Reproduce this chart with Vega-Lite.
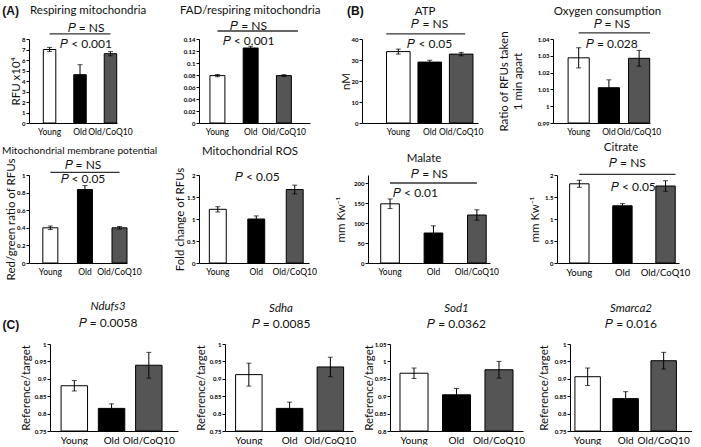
{
 "$schema": "https://vega.github.io/schema/vega-lite/v6.json",
 "background": "white",
 "padding": {"left": 2, "top": 4, "right": 0, "bottom": 0},
 "config": {
  "font": "Lato",
  "view": {"stroke": null},
  "title": {"fontSize": 11.5, "fontWeight": "normal", "offset": 3, "color": "#111", "subtitleFontSize": 12, "subtitleColor": "#111", "subtitlePadding": 5},
  "axisY": {"domainColor": "black", "tickColor": "black", "tickSize": 3, "tickCount": 20, "labelFontSize": 6, "labelFontWeight": "bold", "labelColor": "black", "labelPadding": 1, "labelOverlap": false, "titleFontSize": 11.5, "titleFontWeight": "normal", "titleColor": "#111", "titlePadding": 1, "grid": false},
  "axisX": {"domainColor": "black", "ticks": false, "labelAngle": 0, "labelFontSize": 8.5, "labelColor": "black", "labelPadding": 4, "title": null, "grid": false},
  "text": {"fontSize": 12, "color": "#111"},
  "rule": {"color": "#333", "strokeWidth": 1.3}
 },
 "datasets": {
  "A1": [{"g":"Young","v":7.0,"lo":6.8,"hi":7.2},{"g":"Old","v":4.6,"lo":3.65,"hi":5.55},{"g":"Old/CoQ10","v":6.6,"lo":6.4,"hi":6.8}],
  "A2": [{"g":"Young","v":0.079,"lo":0.077,"hi":0.081},{"g":"Old","v":0.125,"lo":0.122,"hi":0.128},{"g":"Old/CoQ10","v":0.079,"lo":0.0775,"hi":0.0805}],
  "B1": [{"g":"Young","v":34,"lo":32.8,"hi":35.2},{"g":"Old","v":29,"lo":28.1,"hi":29.9},{"g":"Old/CoQ10","v":32.8,"lo":32,"hi":33.6}],
  "B2": [{"g":"Young","v":1.0288,"lo":1.0228,"hi":1.0348},{"g":"Old","v":1.011,"lo":1.0063,"hi":1.0157},{"g":"Old/CoQ10","v":1.0285,"lo":1.0238,"hi":1.0332}],
  "A3": [{"g":"Young","v":0.40,"lo":0.38,"hi":0.42},{"g":"Old","v":0.835,"lo":0.79,"hi":0.88},{"g":"Old/CoQ10","v":0.40,"lo":0.385,"hi":0.415}],
  "A4": [{"g":"Young","v":1.22,"lo":1.16,"hi":1.28},{"g":"Old","v":1.0,"lo":0.93,"hi":1.07},{"g":"Old/CoQ10","v":1.67,"lo":1.57,"hi":1.77}],
  "B3": [{"g":"Young","v":148,"lo":136,"hi":160},{"g":"Old","v":75,"lo":57,"hi":93},{"g":"Old/CoQ10","v":120,"lo":107,"hi":133}],
  "B4": [{"g":"Young","v":1.8,"lo":1.72,"hi":1.88},{"g":"Old","v":1.3,"lo":1.25,"hi":1.35},{"g":"Old/CoQ10","v":1.75,"lo":1.63,"hi":1.87}],
  "C1": [{"g":"Young","v":0.88,"lo":0.865,"hi":0.895},{"g":"Old","v":0.815,"lo":0.802,"hi":0.828},{"g":"Old/CoQ10","v":0.939,"lo":0.902,"hi":0.976}],
  "C2": [{"g":"Young","v":0.912,"lo":0.879,"hi":0.945},{"g":"Old","v":0.815,"lo":0.797,"hi":0.833},{"g":"Old/CoQ10","v":0.934,"lo":0.906,"hi":0.962}],
  "C3": [{"g":"Young","v":0.966,"lo":0.951,"hi":0.981},{"g":"Old","v":0.904,"lo":0.886,"hi":0.922},{"g":"Old/CoQ10","v":0.976,"lo":0.952,"hi":1.0}],
  "C4": [{"g":"Young","v":0.906,"lo":0.881,"hi":0.931},{"g":"Old","v":0.843,"lo":0.823,"hi":0.863},{"g":"Old/CoQ10","v":0.952,"lo":0.928,"hi":0.976}],
  "none": []
 },
 "columns": 1,
 "align": "none",
 "spacing": 20,
 "concat": [
  {"columns": 1, "align": "none", "spacing": 6, "concat": [
   {"bounds": "flush", "spacing": 0, "hconcat": [
      {"width": 88, "height": 84, "title": {"text": "Respiring mitochondria", "anchor": "start", "frame": "group", "dx": 1, "offset": -12},
       "layer": [
        {"data": {"name": "A1"}, "mark": {"type": "bar", "stroke": "black", "strokeWidth": 1},
         "encoding": {
          "x": {"field": "g", "type": "nominal", "scale": {"domain": ["Young","Old","Old/CoQ10"], "paddingInner": 0.59, "paddingOuter": 0.24, "align": 0.98}, "axis": {"title": null}},
          "y": {"field": "v", "type": "quantitative", "title": "RFU x10⁴", "scale": {"domain": [0, 8], "nice": false, "zero": false}, "axis": {"values": [0,1,2,3,4,5,6,7,8], "format": "d", "tickCount": 20, "titlePadding": 0}},
          "y2": {"datum": 0},
          "fill": {"field": "g", "type": "nominal", "scale": {"domain": ["Young","Old","Old/CoQ10"], "range": ["#ffffff","#000000","#555555"]}, "legend": null}}},
        {"data": {"name": "A1"}, "mark": {"type": "errorbar", "ticks": {"size": 5}, "color": "black", "thickness": 1},
         "encoding": {"x": {"field": "g", "type": "nominal"}, "y": {"field": "lo", "type": "quantitative", "title": "RFU x10⁴"}, "y2": {"field": "hi"}}},
        {"data": {"values": [{"a": "Young", "b": "Old/CoQ10", "v": 8.48}]}, "mark": {"type": "rule"},
         "encoding": {"x": {"field": "a", "type": "nominal"}, "x2": {"field": "b"}, "y": {"field": "v", "type": "quantitative"}}},
        {"data": {"values": [{"g": "Old", "v": 9.05, "t": "𝑃 = NS"}, {"g": "Old", "v": 7.52, "t": "𝑃 < 0.001"}]}, "mark": {"type": "text", "dx": 6},
         "encoding": {"x": {"field": "g", "type": "nominal"}, "y": {"field": "v", "type": "quantitative"}, "text": {"field": "t"}}},
        {"data": {"values": [{"g": "Young", "v": 10.67, "t": "(A)"}]}, "mark": {"type": "text", "dx": -39, "font": "Liberation Sans", "fontWeight": "bold"},
         "encoding": {"x": {"field": "g", "type": "nominal"}, "y": {"field": "v", "type": "quantitative"}, "text": {"field": "t"}}}
       ]},
      {"width": 82, "height": 10, "data": {"name": "none"}, "mark": "point"},
      {"width": 111, "height": 84, "title": {"text": "FAD/respiring mitochondria", "anchor": "start", "frame": "group", "dx": -19, "offset": 3},
       "layer": [
        {"data": {"name": "A2"}, "mark": {"type": "bar", "stroke": "black", "strokeWidth": 1},
         "encoding": {
          "x": {"field": "g", "type": "nominal", "scale": {"domain": ["Young","Old","Old/CoQ10"], "paddingInner": 0.55, "paddingOuter": 0.445, "align": 0.37}, "axis": {"title": null}},
          "y": {"field": "v", "type": "quantitative", "title": null, "scale": {"domain": [0, 0.14], "nice": false, "zero": false}, "axis": {"values": [0,0.02,0.04,0.06,0.08,0.1,0.12,0.14], "format": ".2~f", "tickCount": 20}},
          "y2": {"datum": 0},
          "fill": {"field": "g", "type": "nominal", "scale": {"domain": ["Young","Old","Old/CoQ10"], "range": ["#ffffff","#000000","#555555"]}, "legend": null}}},
        {"data": {"name": "A2"}, "mark": {"type": "errorbar", "ticks": {"size": 5}, "color": "black", "thickness": 1},
         "encoding": {"x": {"field": "g", "type": "nominal"}, "y": {"field": "lo", "type": "quantitative", "title": null}, "y2": {"field": "hi"}}},
        {"data": {"values": [{"a": "Young", "b": "Old/CoQ10", "v": 0.1533}]}, "mark": {"type": "rule", "x2Offset": 14},
         "encoding": {"x": {"field": "a", "type": "nominal"}, "x2": {"field": "b"}, "y": {"field": "v", "type": "quantitative"}}},
        {"data": {"values": [{"g": "Old", "v": 0.1617, "t": "𝑃 = NS"}, {"g": "Old", "v": 0.1368, "t": "𝑃 < 0.001"}]}, "mark": {"type": "text", "dx": -2},
         "encoding": {"x": {"field": "g", "type": "nominal"}, "y": {"field": "v", "type": "quantitative"}, "text": {"field": "t"}}}
       ]},
      {"width": 52, "height": 10, "data": {"name": "none"}, "mark": "point"},
      {"width": 116, "height": 84, "title": {"text": "ATP", "frame": "group", "dx": 5, "offset": -12},
       "layer": [
        {"data": {"name": "B1"}, "mark": {"type": "bar", "stroke": "black", "strokeWidth": 1},
         "encoding": {
          "x": {"field": "g", "type": "nominal", "scale": {"domain": ["Young","Old","Old/CoQ10"], "paddingInner": 0.25, "paddingOuter": 0.47, "align": 0.83}, "axis": {"title": null}},
          "y": {"field": "v", "type": "quantitative", "title": "nM", "scale": {"domain": [0, 40], "nice": false, "zero": false}, "axis": {"values": [0,10,20,30,40], "format": "d", "tickCount": 20, "titlePadding": 0}},
          "y2": {"datum": 0},
          "fill": {"field": "g", "type": "nominal", "scale": {"domain": ["Young","Old","Old/CoQ10"], "range": ["#ffffff","#000000","#555555"]}, "legend": null}}},
        {"data": {"name": "B1"}, "mark": {"type": "errorbar", "ticks": {"size": 5}, "color": "black", "thickness": 1},
         "encoding": {"x": {"field": "g", "type": "nominal"}, "y": {"field": "lo", "type": "quantitative", "title": "nM"}, "y2": {"field": "hi"}}},
        {"data": {"values": [{"a": "Young", "b": "Old/CoQ10", "v": 42.4}]}, "mark": {"type": "rule", "xOffset": -12, "x2Offset": 4},
         "encoding": {"x": {"field": "a", "type": "nominal"}, "x2": {"field": "b"}, "y": {"field": "v", "type": "quantitative"}}},
        {"data": {"values": [{"g": "Old", "v": 47.1, "t": "𝑃 = NS"}, {"g": "Old", "v": 37.6, "t": "𝑃 < 0.05"}]}, "mark": {"type": "text"},
         "encoding": {"x": {"field": "g", "type": "nominal"}, "y": {"field": "v", "type": "quantitative"}, "text": {"field": "t"}}},
        {"data": {"values": [{"g": "Young", "v": 53.3, "t": "(B)"}]}, "mark": {"type": "text", "dx": -43, "font": "Liberation Sans", "fontWeight": "bold"},
         "encoding": {"x": {"field": "g", "type": "nominal"}, "y": {"field": "v", "type": "quantitative"}, "text": {"field": "t"}}}
       ]},
      {"width": 75, "height": 10, "data": {"name": "none"}, "mark": "point"},
      {"width": 97, "height": 84, "title": {"text": "Oxygen consumption", "frame": "group", "dx": 6, "offset": 1},
       "layer": [
        {"data": {"name": "B2"}, "mark": {"type": "bar", "stroke": "black", "strokeWidth": 1},
         "encoding": {
          "x": {"field": "g", "type": "nominal", "scale": {"domain": ["Young","Old","Old/CoQ10"], "paddingInner": 0.3, "paddingOuter": 0.255, "align": 0.98}, "axis": {"title": null}},
          "y": {"field": "v", "type": "quantitative", "title": ["Ratio of RFUs taken", "1 min apart"], "scale": {"domain": [0.99, 1.04], "nice": false, "zero": false}, "axis": {"values": [0.99,1,1.01,1.02,1.03,1.04], "format": ".2~f", "tickCount": 20, "titlePadding": 14}},
          "y2": {"datum": 0.99},
          "fill": {"field": "g", "type": "nominal", "scale": {"domain": ["Young","Old","Old/CoQ10"], "range": ["#ffffff","#000000","#555555"]}, "legend": null}}},
        {"data": {"name": "B2"}, "mark": {"type": "errorbar", "ticks": {"size": 5}, "color": "black", "thickness": 1},
         "encoding": {"x": {"field": "g", "type": "nominal"}, "y": {"field": "lo", "type": "quantitative", "title": ["Ratio of RFUs taken", "1 min apart"]}, "y2": {"field": "hi"}}},
        {"data": {"values": [{"a": "Young", "b": "Old/CoQ10", "v": 1.0436}]}, "mark": {"type": "rule", "x2Offset": 11},
         "encoding": {"x": {"field": "a", "type": "nominal"}, "x2": {"field": "b"}, "y": {"field": "v", "type": "quantitative"}}},
        {"data": {"values": [{"g": "Old", "v": 1.0489, "t": "𝑃 = NS"}, {"g": "Old", "v": 1.037, "t": "𝑃 = 0.028"}]}, "mark": {"type": "text", "dx": 3},
         "encoding": {"x": {"field": "g", "type": "nominal"}, "y": {"field": "v", "type": "quantitative"}, "text": {"field": "t"}}}
       ]}
   ]},
   {"bounds": "flush", "spacing": 0, "hconcat": [
      {"width": 98, "height": 88, "title": {"text": "Mitochondrial membrane potential", "fontSize": 10.2, "anchor": "start", "frame": "group", "dx": -27, "offset": 2},
       "layer": [
        {"data": {"name": "A3"}, "mark": {"type": "bar", "stroke": "black", "strokeWidth": 1},
         "encoding": {
          "x": {"field": "g", "type": "nominal", "scale": {"domain": ["Young","Old","Old/CoQ10"], "paddingInner": 0.566, "paddingOuter": 0.2, "align": 1}, "axis": {"title": null}},
          "y": {"field": "v", "type": "quantitative", "title": "Red/green ratio of RFUs", "scale": {"domain": [0, 1], "nice": false, "zero": false}, "axis": {"values": [0,0.2,0.4,0.6,0.8,1], "format": ".1~f", "tickCount": 20, "titlePadding": 0}},
          "y2": {"datum": 0},
          "fill": {"field": "g", "type": "nominal", "scale": {"domain": ["Young","Old","Old/CoQ10"], "range": ["#ffffff","#000000","#555555"]}, "legend": null}}},
        {"data": {"name": "A3"}, "mark": {"type": "errorbar", "ticks": {"size": 5}, "color": "black", "thickness": 1},
         "encoding": {"x": {"field": "g", "type": "nominal"}, "y": {"field": "lo", "type": "quantitative", "title": "Red/green ratio of RFUs"}, "y2": {"field": "hi"}}},
        {"data": {"values": [{"a": "Young", "b": "Old/CoQ10", "v": 1.03}]}, "mark": {"type": "rule"},
         "encoding": {"x": {"field": "a", "type": "nominal"}, "x2": {"field": "b"}, "y": {"field": "v", "type": "quantitative"}}},
        {"data": {"values": [{"g": "Old", "v": 1.11, "t": "𝑃 = NS"}, {"g": "Old", "v": 0.95, "t": "𝑃 < 0.05"}]}, "mark": {"type": "text", "dx": -2},
         "encoding": {"x": {"field": "g", "type": "nominal"}, "y": {"field": "v", "type": "quantitative"}, "text": {"field": "t"}}}
       ]},
      {"width": 72, "height": 10, "data": {"name": "none"}, "mark": "point"},
      {"width": 110, "height": 88, "title": {"text": "Mitochondrial ROS", "frame": "group", "dx": -4, "offset": 10},
       "layer": [
        {"data": {"name": "A4"}, "mark": {"type": "bar", "stroke": "black", "strokeWidth": 1},
         "encoding": {
          "x": {"field": "g", "type": "nominal", "scale": {"domain": ["Young","Old","Old/CoQ10"], "paddingInner": 0.56, "paddingOuter": 0.21, "align": 0.64}, "axis": {"title": null}},
          "y": {"field": "v", "type": "quantitative", "title": "Fold change of RFUs", "scale": {"domain": [0, 2], "nice": false, "zero": false}, "axis": {"values": [0,0.5,1,1.5,2], "format": ".1~f", "tickCount": 20}},
          "y2": {"datum": 0},
          "fill": {"field": "g", "type": "nominal", "scale": {"domain": ["Young","Old","Old/CoQ10"], "range": ["#ffffff","#000000","#555555"]}, "legend": null}}},
        {"data": {"name": "A4"}, "mark": {"type": "errorbar", "ticks": {"size": 5}, "color": "black", "thickness": 1},
         "encoding": {"x": {"field": "g", "type": "nominal"}, "y": {"field": "lo", "type": "quantitative", "title": "Fold change of RFUs"}, "y2": {"field": "hi"}}},
        {"data": {"values": [{"g": "Old", "v": 1.96, "t": "𝑃 < 0.05"}]}, "mark": {"type": "text", "dx": 1},
         "encoding": {"x": {"field": "g", "type": "nominal"}, "y": {"field": "v", "type": "quantitative"}, "text": {"field": "t"}}}
       ]},
      {"width": 59, "height": 10, "data": {"name": "none"}, "mark": "point"},
      {"width": 122, "height": 88, "title": {"text": "Malate", "frame": "group", "dx": -5, "offset": 4},
       "layer": [
        {"data": {"name": "B3"}, "mark": {"type": "bar", "stroke": "black", "strokeWidth": 1},
         "encoding": {
          "x": {"field": "g", "type": "nominal", "scale": {"domain": ["Young","Old","Old/CoQ10"], "paddingInner": 0.57, "paddingOuter": 0.19, "align": 0.77}, "axis": {"title": null}},
          "y": {"field": "v", "type": "quantitative", "title": "mm Kw⁻¹", "scale": {"domain": [0, 220], "nice": false, "zero": false}, "axis": {"values": [0,50,100,150,200], "format": "d", "tickCount": 20, "titlePadding": 7}},
          "y2": {"datum": 0},
          "fill": {"field": "g", "type": "nominal", "scale": {"domain": ["Young","Old","Old/CoQ10"], "range": ["#ffffff","#000000","#555555"]}, "legend": null}}},
        {"data": {"name": "B3"}, "mark": {"type": "errorbar", "ticks": {"size": 5}, "color": "black", "thickness": 1},
         "encoding": {"x": {"field": "g", "type": "nominal"}, "y": {"field": "lo", "type": "quantitative", "title": "mm Kw⁻¹"}, "y2": {"field": "hi"}}},
        {"data": {"values": [{"a": "Young", "b": "Old/CoQ10", "v": 200}]}, "mark": {"type": "rule"},
         "encoding": {"x": {"field": "a", "type": "nominal"}, "x2": {"field": "b"}, "y": {"field": "v", "type": "quantitative"}}},
        {"data": {"values": [{"g": "Old", "v": 222, "t": "𝑃 = NS"}]}, "mark": {"type": "text", "dx": -4},
         "encoding": {"x": {"field": "g", "type": "nominal"}, "y": {"field": "v", "type": "quantitative"}, "text": {"field": "t"}}},
        {"data": {"values": [{"g": "Old", "v": 175, "t": "𝑃 < 0.01"}]}, "mark": {"type": "text", "dx": -18},
         "encoding": {"x": {"field": "g", "type": "nominal"}, "y": {"field": "v", "type": "quantitative"}, "text": {"field": "t"}}}
       ]},
      {"width": 67, "height": 10, "data": {"name": "none"}, "mark": "point"},
      {"width": 122, "height": 88, "title": {"text": "Citrate", "frame": "group", "dx": 3, "offset": 3},
       "layer": [
        {"data": {"name": "B4"}, "mark": {"type": "bar", "stroke": "black", "strokeWidth": 1},
         "encoding": {
          "x": {"field": "g", "type": "nominal", "scale": {"domain": ["Young","Old","Old/CoQ10"], "paddingInner": 0.55, "paddingOuter": 0.19, "align": 0.77}, "axis": {"title": null, "labelFontSize": 9.5}},
          "y": {"field": "v", "type": "quantitative", "title": "mm Kw⁻¹", "scale": {"domain": [0, 2], "nice": false, "zero": false}, "axis": {"values": [0,0.5,1,1.5,2], "format": ".1~f", "tickCount": 20, "titlePadding": 4}},
          "y2": {"datum": 0},
          "fill": {"field": "g", "type": "nominal", "scale": {"domain": ["Young","Old","Old/CoQ10"], "range": ["#ffffff","#000000","#555555"]}, "legend": null}}},
        {"data": {"name": "B4"}, "mark": {"type": "errorbar", "ticks": {"size": 5}, "color": "black", "thickness": 1},
         "encoding": {"x": {"field": "g", "type": "nominal"}, "y": {"field": "lo", "type": "quantitative", "title": "mm Kw⁻¹"}, "y2": {"field": "hi"}}},
        {"data": {"values": [{"a": "Young", "b": "Old/CoQ10", "v": 2.016}]}, "mark": {"type": "rule", "x2Offset": 10},
         "encoding": {"x": {"field": "a", "type": "nominal"}, "x2": {"field": "b"}, "y": {"field": "v", "type": "quantitative"}}},
        {"data": {"values": [{"g": "Old", "v": 2.28, "t": "𝑃 = NS"}]}, "mark": {"type": "text", "dx": 5},
         "encoding": {"x": {"field": "g", "type": "nominal"}, "y": {"field": "v", "type": "quantitative"}, "text": {"field": "t"}}},
        {"data": {"values": [{"g": "Old", "v": 1.72, "t": "𝑃 < 0.05"}]}, "mark": {"type": "text", "dx": 11},
         "encoding": {"x": {"field": "g", "type": "nominal"}, "y": {"field": "v", "type": "quantitative"}, "text": {"field": "t"}}}
       ]}
   ]}
  ]},
  {"bounds": "flush", "spacing": 0, "hconcat": [
      {"width": 21, "height": 10, "data": {"name": "none"}, "mark": "point"},
      {"width": 128, "height": 87, "title": {"text": "Ndufs3", "fontStyle": "italic", "subtitle": "𝑃 = 0.0058", "frame": "group", "dx": -6, "offset": -10},
       "layer": [
        {"data": {"name": "C1"}, "mark": {"type": "bar", "stroke": "black", "strokeWidth": 1},
         "encoding": {
          "x": {"field": "g", "type": "nominal", "scale": {"domain": ["Young","Old","Old/CoQ10"], "paddingInner": 0.29, "paddingOuter": 0.363, "align": 0.41}, "axis": {"title": null, "labelFontSize": 10}},
          "y": {"field": "v", "type": "quantitative", "title": "Reference/target", "scale": {"domain": [0.75, 1], "nice": false, "zero": false}, "axis": {"values": [0.75,0.8,0.85,0.9,0.95,1], "format": ".2~f", "tickCount": 20, "titlePadding": 3}},
          "y2": {"datum": 0.75},
          "fill": {"field": "g", "type": "nominal", "scale": {"domain": ["Young","Old","Old/CoQ10"], "range": ["#ffffff","#000000","#555555"]}, "legend": null}}},
        {"data": {"name": "C1"}, "mark": {"type": "errorbar", "ticks": {"size": 5}, "color": "black", "thickness": 1},
         "encoding": {"x": {"field": "g", "type": "nominal"}, "y": {"field": "lo", "type": "quantitative", "title": "Reference/target"}, "y2": {"field": "hi"}}},
        {"data": {"values": [{"g": "Young", "v": 1.055, "t": "(C)"}]}, "mark": {"type": "text", "dx": -63.5, "font": "Liberation Sans", "fontWeight": "bold"},
         "encoding": {"x": {"field": "g", "type": "nominal"}, "y": {"field": "v", "type": "quantitative"}, "text": {"field": "t"}}}
       ]},
      {"width": 47, "height": 10, "data": {"name": "none"}, "mark": "point"},
      {"width": 128, "height": 87, "title": {"text": "Sdha", "fontStyle": "italic", "subtitle": "𝑃 = 0.0085", "frame": "group", "dx": -8, "offset": 11},
       "layer": [
        {"data": {"name": "C2"}, "mark": {"type": "bar", "stroke": "black", "strokeWidth": 1},
         "encoding": {
          "x": {"field": "g", "type": "nominal", "scale": {"domain": ["Young","Old","Old/CoQ10"], "paddingInner": 0.35, "paddingOuter": 0.245, "align": 0.53}, "axis": {"title": null, "labelFontSize": 10}},
          "y": {"field": "v", "type": "quantitative", "title": "Reference/target", "scale": {"domain": [0.75, 1], "nice": false, "zero": false}, "axis": {"values": [0.75,0.8,0.85,0.9,0.95,1], "format": ".2~f", "tickCount": 20, "titlePadding": 3}},
          "y2": {"datum": 0.75},
          "fill": {"field": "g", "type": "nominal", "scale": {"domain": ["Young","Old","Old/CoQ10"], "range": ["#ffffff","#000000","#555555"]}, "legend": null}}},
        {"data": {"name": "C2"}, "mark": {"type": "errorbar", "ticks": {"size": 5}, "color": "black", "thickness": 1},
         "encoding": {"x": {"field": "g", "type": "nominal"}, "y": {"field": "lo", "type": "quantitative", "title": "Reference/target"}, "y2": {"field": "hi"}}}
       ]},
      {"width": 37, "height": 10, "data": {"name": "none"}, "mark": "point"},
      {"width": 133, "height": 87, "title": {"text": "Sod1", "fontStyle": "italic", "subtitle": "𝑃 = 0.0362", "frame": "group", "offset": 11},
       "layer": [
        {"data": {"name": "C3"}, "mark": {"type": "bar", "stroke": "black", "strokeWidth": 1},
         "encoding": {
          "x": {"field": "g", "type": "nominal", "scale": {"domain": ["Young","Old","Old/CoQ10"], "paddingInner": 0.34, "paddingOuter": 0.235, "align": 0.5}, "axis": {"title": null, "labelFontSize": 10}},
          "y": {"field": "v", "type": "quantitative", "title": "Reference/target", "scale": {"domain": [0.8, 1.05], "nice": false, "zero": false}, "axis": {"values": [0.8,0.85,0.9,0.95,1,1.05], "format": ".2~f", "tickCount": 20, "titlePadding": 0}},
          "y2": {"datum": 0.8},
          "fill": {"field": "g", "type": "nominal", "scale": {"domain": ["Young","Old","Old/CoQ10"], "range": ["#ffffff","#000000","#555555"]}, "legend": null}}},
        {"data": {"name": "C3"}, "mark": {"type": "errorbar", "ticks": {"size": 5}, "color": "black", "thickness": 1},
         "encoding": {"x": {"field": "g", "type": "nominal"}, "y": {"field": "lo", "type": "quantitative", "title": "Reference/target"}, "y2": {"field": "hi"}}}
       ]},
      {"width": 47, "height": 10, "data": {"name": "none"}, "mark": "point"},
      {"width": 122, "height": 87, "title": {"text": "Smarca2", "fontStyle": "italic", "subtitle": "𝑃 = 0.016", "frame": "group", "offset": 11},
       "layer": [
        {"data": {"name": "C4"}, "mark": {"type": "bar", "stroke": "black", "strokeWidth": 1},
         "encoding": {
          "x": {"field": "g", "type": "nominal", "scale": {"domain": ["Young","Old","Old/CoQ10"], "paddingInner": 0.33, "paddingOuter": 0.27, "align": 0.24}, "axis": {"title": null, "labelFontSize": 10}},
          "y": {"field": "v", "type": "quantitative", "title": "Reference/target", "scale": {"domain": [0.75, 1], "nice": false, "zero": false}, "axis": {"values": [0.75,0.8,0.85,0.9,0.95,1], "format": ".2~f", "tickCount": 20, "titlePadding": 5}},
          "y2": {"datum": 0.75},
          "fill": {"field": "g", "type": "nominal", "scale": {"domain": ["Young","Old","Old/CoQ10"], "range": ["#ffffff","#000000","#555555"]}, "legend": null}}},
        {"data": {"name": "C4"}, "mark": {"type": "errorbar", "ticks": {"size": 5}, "color": "black", "thickness": 1},
         "encoding": {"x": {"field": "g", "type": "nominal"}, "y": {"field": "lo", "type": "quantitative", "title": "Reference/target"}, "y2": {"field": "hi"}}}
       ]}
  ]}
 ]
}
